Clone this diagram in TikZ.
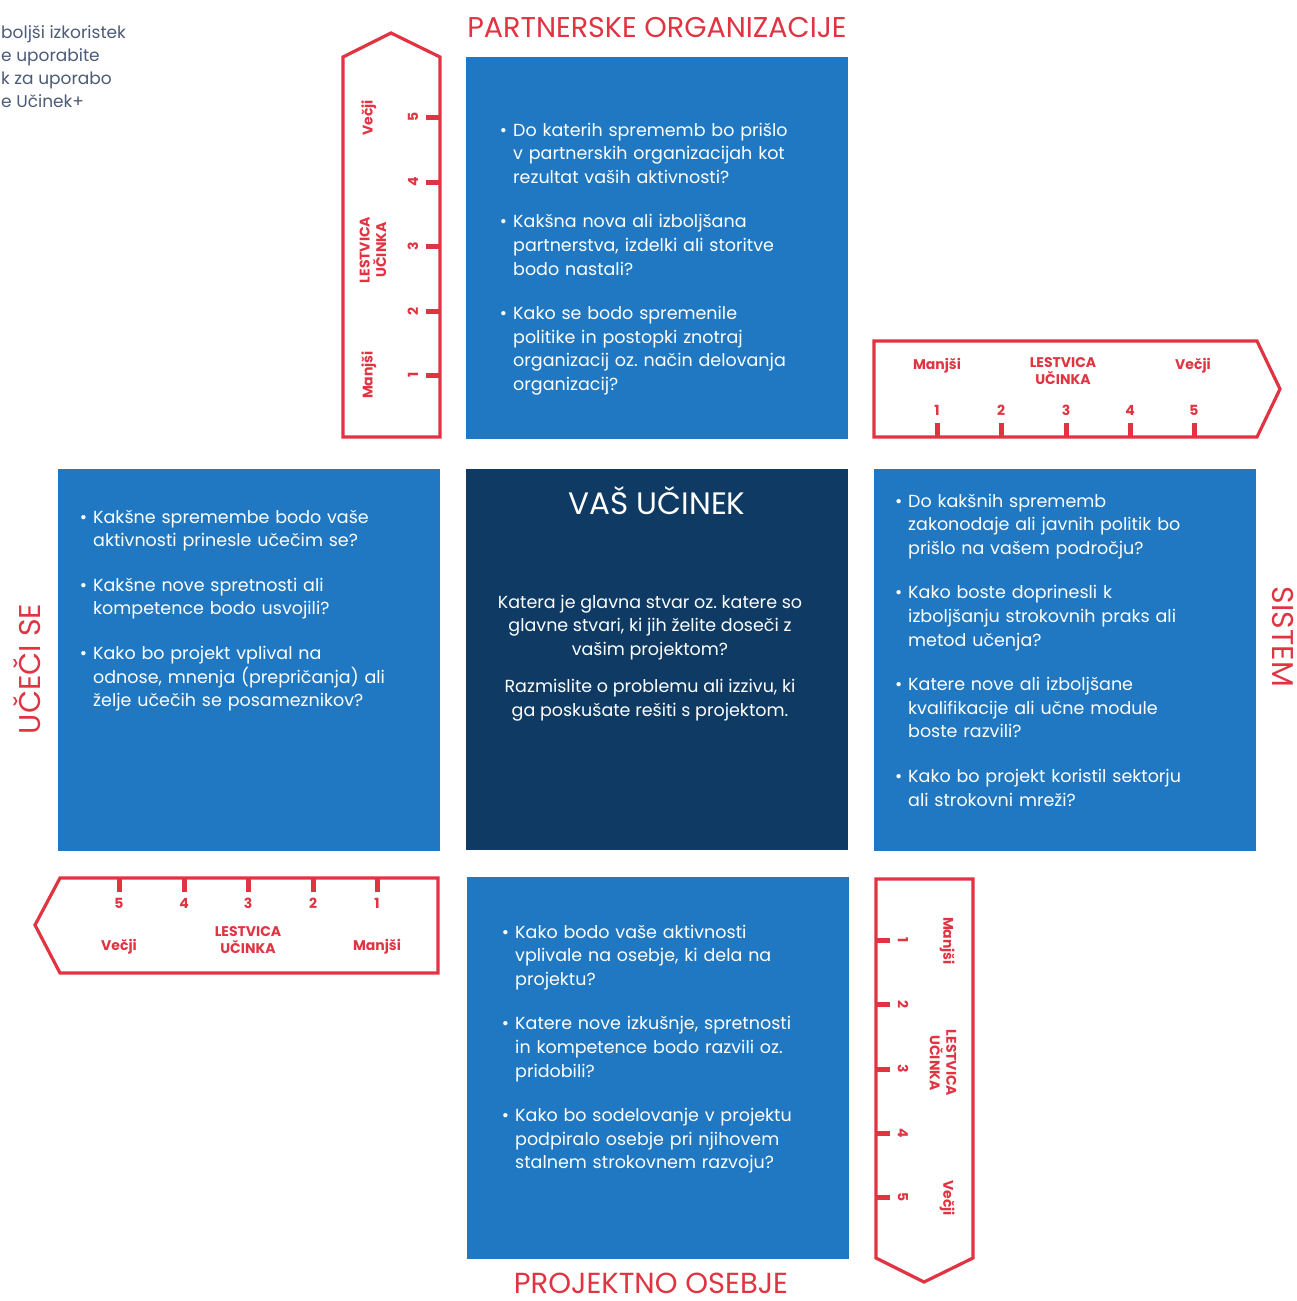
\documentclass[tikz,border=0pt]{standalone}
\usepackage{fontspec}
\setmainfont{Poppins}
\frenchspacing
\definecolor{midblue}{HTML}{1F78C1}
\definecolor{navy}{HTML}{0E3A64}
\definecolor{ured}{HTML}{E03442}
\definecolor{greyblue}{HTML}{4C5B78}
\tikzset{
  qbox/.style={fill=midblue, draw=none, minimum width=382pt, minimum height=382pt, inner sep=0pt},
  cbox/.style={fill=navy, draw=none, minimum width=382pt, minimum height=381pt, inner sep=0pt},
  qtext/.style={text=white, font=\fontsize{17.5}{23.6}\selectfont\frenchspacing, text width=350pt, align=left, inner sep=0pt, anchor=base west},
  ctext/.style={text=white, font=\fontsize{17.5}{23.5}\selectfont\frenchspacing, align=center, inner sep=0pt},
  ctitle/.style={text=white, font=\fontsize{31}{34}\selectfont, inner sep=0pt},
  head/.style={text=ured, font=\fontsize{30}{32}\selectfont, inner sep=0pt},
  ruler/.style={draw=ured, line width=3.2pt, line join=miter},
  rtick/.style={draw=ured, line width=5pt},
  rlab/.style={text=ured, font=\fontsize{14}{16.5}\selectfont\bfseries, align=center, inner sep=0pt},
  rnum/.style={text=ured, font=\fontsize{14}{16}\selectfont\bfseries, inner sep=0pt},
  side/.style={text=greyblue, font=\fontsize{17}{20}\selectfont, inner sep=0pt, anchor=mid west}
}
\newcommand{\bul}{\leavevmode\llap{\textbullet\hspace{6pt}}}
\begin{document}
\begin{tikzpicture}[x=1pt,y=-1pt]
\useasboundingbox (0,0) rectangle (1297,1301);
\fill[white] (0,0) rectangle (1297,1301);

% cut-off side text
\node[side] (s1) at (1,36) {boljši izkoristek};
\node[side] (s2) at (1,59) {e uporabite};
\node[side] (s3) at (1,82) {k za uporabo};
\node[side] (s4) at (1,105) {e Učinek+};

% boxes
\node[qbox] (partner) at (657,248) {};
\node[cbox] (center) at (657,659.5) {};
\node[qbox] (learners) at (248.5,659.5) {};
\node[qbox] (system) at (1065,659.5) {};
\node[qbox] (staff) at (658,1068) {};

% headings
\node[head, font=\fontsize{28.6}{32}\selectfont] (hpartner) at (657,28) {PARTNERSKE ORGANIZACIJE};
\node[head, font=\fontsize{29}{32}\selectfont] (hstaff) at (651,1283) {PROJEKTNO OSEBJE};
\node[head, rotate=90] (hlearn) at (27,669) {UČEČI SE};
\node[head, rotate=-90] (hsys) at (1283,637) {SISTEM};

% box texts
\node[qtext] (tpartner) at (513,136) {\bul Do katerih sprememb bo prišlo\\ v partnerskih organizacijah kot\\ rezultat vaših aktivnosti?\\[21pt]
\bul Kakšna nova ali izboljšana\\ partnerstva, izdelki ali storitve\\ bodo nastali?\\[21pt]
\bul Kako se bodo spremenile\\ politike in postopki znotraj\\ organizacij oz. način delovanja\\ organizacij?};

\node[qtext] (tlearn) at (93,523) {\bul Kakšne spremembe bodo vaše\\ aktivnosti prinesle učečim se?\\[21pt]
\bul Kakšne nove spretnosti ali\\ kompetence bodo usvojili?\\[21pt]
\bul Kako bo projekt vplival na\\ odnose, mnenja (prepričanja) ali\\ želje učečih se posameznikov?};

\node[qtext] (tsys) at (908,507) {\bul Do kakšnih sprememb\\ zakonodaje ali javnih politik bo\\ prišlo na vašem področju?\\[21pt]
\bul Kako boste doprinesli k\\ izboljšanju strokovnih praks ali\\ metod učenja?\\[21pt]
\bul Katere nove ali izboljšane\\ kvalifikacije ali učne module\\ boste razvili?\\[21pt]
\bul Kako bo projekt koristil sektorju\\ ali strokovni mreži?};

\node[qtext] (tstaff) at (515,938) {\bul Kako bodo vaše aktivnosti\\ vplivale na osebje, ki dela na\\ projektu?\\[21pt]
\bul Katere nove izkušnje, spretnosti\\ in kompetence bodo razvili oz.\\ pridobili?\\[21pt]
\bul Kako bo sodelovanje v projektu\\ podpiralo osebje pri njihovem\\ stalnem strokovnem razvoju?};

\node[ctitle] (ctitle) at (657,501) {VAŠ UČINEK};
\node[ctext] (cq) at (650,627.5) {Katera je glavna stvar oz. katere so\\ glavne stvari, ki jih želite doseči z\\ vašim projektom?};
\node[ctext] (cr) at (650,700) {Razmislite o problemu ali izzivu, ki\\ ga poskušate rešiti s projektom.};

% ruler: top-left (vertical, up)
\draw[ruler] (343,437) -- (343,57) -- (391,33) -- (440,57) -- (440,437) -- cycle;
\foreach \i/\yy in {1/375,2/311,3/246,4/182,5/117}{
  \draw[rtick] (440,\yy) -- (426,\yy);
  \node[rnum, rotate=90] (ta\i) at (413,\yy) {\i};
}
\node[rlab, rotate=90] (taV) at (369,118) {Večji};
\node[rlab, rotate=90] (taL) at (373,250) {LESTVICA\\UČINKA};
\node[rlab, rotate=90] (taM) at (369,375) {Manjši};

% ruler: right (horizontal, pointing right)
\draw[ruler] (874,341) -- (1257,341) -- (1280,389) -- (1257,437) -- (874,437) -- cycle;
\foreach \i/\xx in {1/937,2/1001,3/1066,4/1130,5/1194}{
  \draw[rtick] (\xx,437) -- (\xx,423);
  \node[rnum] (tb\i) at (\xx,410) {\i};
}
\node[rlab] (tbM) at (937,366) {Manjši};
\node[rlab] (tbL) at (1063,371) {LESTVICA\\UČINKA};
\node[rlab] (tbV) at (1193,366) {Večji};

% ruler: left (horizontal, pointing left)
\draw[ruler] (438,878) -- (438,973) -- (60,973) -- (35,925) -- (60,878) -- cycle;
\foreach \i/\xx in {1/377,2/313,3/248,4/184,5/119}{
  \draw[rtick] (\xx,878) -- (\xx,892);
  \node[rnum] (tc\i) at (\xx,903) {\i};
}
\node[rlab] (tcV) at (119,947) {Večji};
\node[rlab] (tcL) at (248,940) {LESTVICA\\UČINKA};
\node[rlab] (tcM) at (377,947) {Manjši};

% ruler: bottom-right (vertical, down)
\draw[ruler] (876,879) -- (973,879) -- (973,1258) -- (924,1282) -- (876,1258) -- cycle;
\foreach \i/\yy in {1/940,2/1004,3/1069,4/1133,5/1197}{
  \draw[rtick] (876,\yy) -- (890,\yy);
  \node[rnum, rotate=-90] (td\i) at (903,\yy) {\i};
}
\node[rlab, rotate=-90] (tdM) at (947,941) {Manjši};
\node[rlab, rotate=-90] (tdL) at (943,1063) {LESTVICA\\UČINKA};
\node[rlab, rotate=-90] (tdV) at (947,1198) {Večji};
\end{tikzpicture}
\end{document}
